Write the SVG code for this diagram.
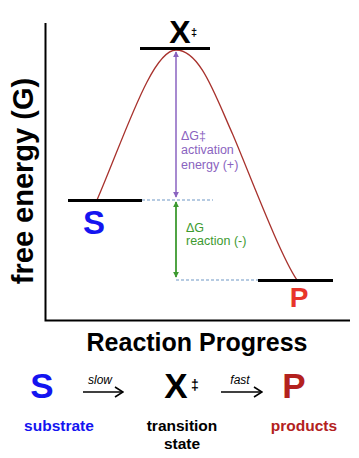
<svg xmlns="http://www.w3.org/2000/svg" width="359" height="458" viewBox="0 0 359 458">
<style>
text{font-family:"Liberation Sans",Arial,sans-serif}
.b{font-weight:bold}
.lvl{stroke:#000;stroke-width:3;fill:none}
.dot{stroke:#9fbbd9;stroke-width:1.3;stroke-dasharray:3 2;fill:none}
.axis{stroke:#000;stroke-width:2;fill:none}
.pur{fill:#8a63c0}
.grn{fill:#3d9a30}
</style>
<defs>
<marker id="ap" viewBox="0 0 8 8" refX="7" refY="4" markerWidth="6" markerHeight="6" orient="auto-start-reverse" markerUnits="userSpaceOnUse"><path d="M0,0 L8,4 L0,8 Z" fill="#8a63c0"/></marker>
<marker id="ag" viewBox="0 0 8 8" refX="7" refY="4" markerWidth="6" markerHeight="6" orient="auto-start-reverse" markerUnits="userSpaceOnUse"><path d="M0,0 L8,4 L0,8 Z" fill="#3d9a30"/></marker>
<marker id="ao" viewBox="0 0 10 12" refX="9" refY="6" markerWidth="10" markerHeight="12" orient="auto" markerUnits="userSpaceOnUse"><path d="M1,1 L9,6 L1,11" fill="none" stroke="#000" stroke-width="1.6"/></marker>
</defs>

<g id="axes">
<path class="axis" d="M45.5,23 V320.5 H350"/>
<text class="b" font-size="29" text-anchor="middle" transform="translate(33,181) rotate(-90)">free energy (G)</text>
<text class="b" font-size="25" x="197" y="351" text-anchor="middle">Reaction Progress</text>
</g>

<g id="curve">
<path d="M97,200 C125,135 152,50 176,50 C200,50 215,95 233,135 C250,175 280,255 297,280" fill="none" stroke="#a8322d" stroke-width="1.3"/>
</g>

<g id="connectors">
<path class="dot" d="M142,200 H213"/>
<path class="dot" d="M176,280 H258"/>
<line x1="176" y1="52" x2="176" y2="197" stroke="#8a63c0" stroke-width="1.5" marker-start="url(#ap)" marker-end="url(#ap)"/>
<line x1="176" y1="202" x2="176" y2="277" stroke="#3d9a30" stroke-width="1.8" marker-start="url(#ag)" marker-end="url(#ag)"/>
<line x1="83" y1="392" x2="123" y2="392" stroke="#000" stroke-width="1.6" marker-end="url(#ao)"/>
<line x1="221" y1="392" x2="262" y2="392" stroke="#000" stroke-width="1.6" marker-end="url(#ao)"/>
</g>

<g id="ts-level">
<path class="lvl" d="M140,48.5 H210"/>
<text class="b" font-size="32" x="180" y="43" text-anchor="middle">X</text>
<text class="b" font-size="11" x="191" y="36">‡</text>
</g>

<g id="s-level">
<path class="lvl" d="M68,200.5 H142"/>
<text class="b" font-size="33" x="94" y="234" text-anchor="middle" fill="#1414f0">S</text>
</g>

<g id="p-level">
<path class="lvl" d="M258,280.5 H333"/>
<text class="b" font-size="28" x="299" y="307" text-anchor="middle" fill="#e8352b">P</text>
</g>

<g id="dG-act">
<text class="pur" font-size="12.5" x="181" y="140">ΔG‡</text>
<text class="pur" font-size="12.5" x="181" y="154">activation</text>
<text class="pur" font-size="12.5" x="181" y="169">energy (+)</text>
</g>

<g id="dG-rxn">
<text class="grn" font-size="12.5" x="186" y="232">ΔG</text>
<text class="grn" font-size="12.5" x="186" y="245">reaction (-)</text>
</g>

<g id="substrate">
<text class="b" font-size="35" x="42" y="398" text-anchor="middle" fill="#1414f0">S</text>
<text class="b" font-size="15.5" x="59" y="431" text-anchor="middle" fill="#1414f0">substrate</text>
</g>

<g id="slow"><text font-size="12" font-style="italic" x="100" y="384" text-anchor="middle">slow</text></g>

<g id="transition">
<text class="b" font-size="35" x="176" y="398" text-anchor="middle">X</text>
<text class="b" font-size="14" x="191" y="390">‡</text>
<text class="b" font-size="15.5" x="182" y="431" text-anchor="middle">transition</text>
<text class="b" font-size="15.5" x="182" y="449" text-anchor="middle">state</text>
</g>

<g id="fast"><text font-size="12" font-style="italic" x="240" y="384" text-anchor="middle">fast</text></g>

<g id="products">
<text class="b" font-size="35" x="294" y="398" text-anchor="middle" fill="#b3211e">P</text>
<text class="b" font-size="15.5" x="304" y="431" text-anchor="middle" fill="#b3211e">products</text>
</g>
</svg>
